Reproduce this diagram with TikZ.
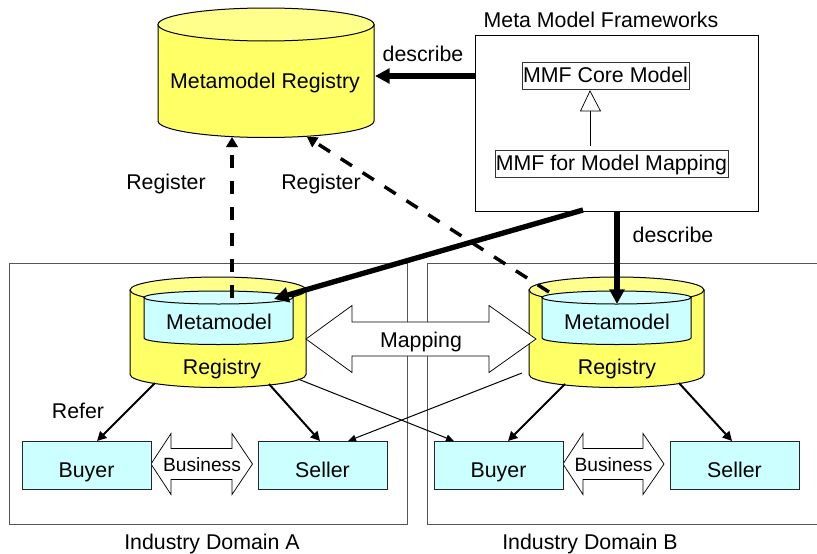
\documentclass[tikz,border=0pt]{standalone}
\usepackage{fontspec}
\setmainfont{Liberation Sans}
\usetikzlibrary{arrows.meta}
\definecolor{cylY}{HTML}{FFFF66}
\definecolor{cylYtop}{HTML}{FFFF8C}
\definecolor{cylC}{HTML}{CCFFFF}
\definecolor{cylCtop}{HTML}{D6FFFF}
\definecolor{edgegray}{HTML}{555555}
\newcommand{\cyl}[7]{% x1,x2,ytopcentre,ry,ysidebottom,fill,topfill
  \pgfmathsetmacro{\rx}{(#2-#1)/2}
  \pgfmathsetmacro{\xm}{(#1+#2)/2}
  \draw[fill=#6,line width=0.75pt] (#1,#3) -- (#1,#5)
     .. controls (#1,#5+0.55*#4) and (\xm-0.55*\rx,#5+#4) .. (\xm,#5+#4)
     .. controls (\xm+0.55*\rx,#5+#4) and (#2,#5+0.55*#4) .. (#2,#5) -- (#2,#3) -- cycle;
  \draw[fill=#7,line width=0.75pt]
     (#1,#3) .. controls (#1,#3-0.55*#4) and (\xm-0.55*\rx,#3-#4) .. (\xm,#3-#4)
     .. controls (\xm+0.55*\rx,#3-#4) and (#2,#3-0.55*#4) .. (#2,#3)
     .. controls (#2,#3+0.55*#4) and (\xm+0.55*\rx,#3+#4) .. (\xm,#3+#4)
     .. controls (\xm-0.55*\rx,#3+#4) and (#1,#3+0.55*#4) .. (#1,#3) -- cycle;
}
\newcommand{\dblarrow}[7]{% ltip,lbase,rbase,rtip,ymid,headhalf,shafthalf
  \draw[fill=white,line width=0.55pt,draw=black] (#1,#5) -- (#2,#5-#6) -- (#2,#5-#7) -- (#3,#5-#7) -- (#3,#5-#6)
    -- (#4,#5) -- (#3,#5+#6) -- (#3,#5+#7) -- (#2,#5+#7) -- (#2,#5+#6) -- cycle;
}
\tikzset{
  x=0.75pt,y=-0.75pt,
  lbl/.style={font=\fontsize{16}{19}\selectfont,inner sep=0pt,anchor=base},
  smalllbl/.style={font=\fontsize{14.4}{17}\selectfont,inner sep=0pt,anchor=base},
  actor/.style={draw=black!85,fill=cylC,line width=0.75pt,inner sep=0pt,font=\fontsize{16}{19}\selectfont,
     minimum width=96.75pt,minimum height=36pt,text height=18pt,text depth=0pt},
  mmfbox/.style={draw=black!80,line width=0.75pt,fill=white,inner sep=0pt,font=\fontsize{16}{19}\selectfont,
     minimum height=20.25pt,text height=11.2pt,text depth=0pt},
  frame/.style={draw=edgegray,line width=0.75pt},
  thickarrow/.style={line width=4pt,-{Triangle[length=11pt,width=11pt]}},
  dasharrow/.style={line width=2.6pt,dash pattern=on 10pt off 9.5pt,-{Triangle[length=7.5pt,width=8.5pt,fill=black]}},
  refer/.style={line width=1.5pt,-{Triangle[length=7pt,width=7pt]}},
  crossrefer/.style={line width=0.75pt,-{Triangle[length=6pt,width=5pt]}},
}
\begin{document}
\begin{tikzpicture}
\useasboundingbox (0,0) rectangle (817,553);
% domains
\draw[frame] (9,263) rectangle (407.5,524);
\draw[frame] (817,263) -- (427,263) -- (427,524) -- (817,524);
% top registry
\cyl{158}{374}{24.5}{16.5}{121}{cylY}{cylYtop}
% domain cylinders
\cyl{130}{306}{290}{13}{374.5}{cylY}{cylYtop}
\cyl{144}{293}{297.5}{6.5}{338}{cylC}{cylCtop}
\cyl{529}{704}{290}{13}{374.5}{cylY}{cylYtop}
\cyl{542}{691}{297.5}{6.5}{338}{cylC}{cylCtop}
% mapping and business arrows
\dblarrow{306}{352}{489}{536}{339}{33.5}{17}
\dblarrow{151}{171}{232}{252.5}{464}{30.5}{15.5}
\dblarrow{563}{583}{643}{664}{464}{30.5}{15.5}
% boxes
\node[actor] (buyerA) at (86.5,465) {Buyer};
\node[actor] (sellerA) at (322.5,465) {Seller};
\node[actor] (buyerB) at (498.5,465) {Buyer};
\node[actor] (sellerB) at (734.5,465) {Seller};
\node[draw=black,line width=0.75pt,minimum width=212.25pt,minimum height=132pt,inner sep=0pt] (mmf) at (616.5,123) {};
\node[mmfbox,minimum width=125.25pt] (core) at (605.5,75.5) {MMF Core Model};
\node[mmfbox,minimum width=174.75pt] (mapbox) at (611.5,163.5) {MMF for Model Mapping};
% labels
\node[lbl] (regTop) at (265,88) {Metamodel Registry};
\node[lbl] (metaA) at (219,329) {Metamodel};
\node[lbl] (regA) at (222,374) {Registry};
\node[lbl] (metaB) at (617,329) {Metamodel};
\node[lbl] (regB) at (617,374) {Registry};
\node[lbl] (mapL) at (421,347) {Mapping};
\node[smalllbl] (busLA) at (202,471) {Business};
\node[smalllbl] (busLB) at (613.5,471) {Business};
\node[lbl] (desc1) at (423,61) {describe};
\node[lbl] (desc2) at (673,242) {describe};
\node[lbl] (reg1) at (166,189) {Register};
\node[lbl] (reg2) at (321,189) {Register};
\node[lbl] (refer) at (78,418) {Refer};
\node[lbl] (mmfT) at (601,27) {Meta Model Frameworks};
\node[lbl] (domA) at (212,549) {Industry Domain A};
\node[lbl] (domB) at (590,549) {Industry Domain B};
% connector ends
\coordinate (topR) at (375,76);
\coordinate (topB1) at (232,137);
\coordinate (topB2) at (307,137);
\coordinate (dashA) at (232,298);
\coordinate (dashB) at (549,292);
\coordinate (mmfL) at (475,76);
\coordinate (mmfB1) at (583,210);
\coordinate (mmfB2) at (617,211);
\coordinate (innerA) at (274,299);
\coordinate (innerB) at (617,304);
\coordinate (cAl) at (155,383);
\coordinate (cAr) at (269,384);
\coordinate (cBl) at (565,384);
\coordinate (cBr) at (679,383);
\coordinate (cAx) at (298,379);
\coordinate (cBx) at (522,373);
\coordinate (buyerAt) at (97,441);
\coordinate (sellerAt) at (320,441);
\coordinate (buyerBt) at (508,441);
\coordinate (sellerBt) at (732,441);
\coordinate (sellerAx) at (348,441);
\coordinate (buyerBx) at (454,441);
\coordinate (triTip) at (590,91);
\coordinate (triBase) at (590,111);
\coordinate (mapTop) at (590,146);
% connectors
\draw[thickarrow] (mmfL) -- (topR);
\draw[thickarrow] (mmfB2) -- (innerB);
\draw[thickarrow] (mmfB1) -- (innerA);
\draw[dasharrow] (dashA) -- (topB1);
\draw[dasharrow] (dashB) -- (topB2);
\draw[refer] (cAl) -- (buyerAt);
\draw[refer] (cAr) -- (sellerAt);
\draw[refer] (cBl) -- (buyerBt);
\draw[refer] (cBr) -- (sellerBt);
\draw[crossrefer] (cAx) -- (buyerBx);
\draw[crossrefer] (cBx) -- (sellerAx);
\draw[line width=0.55pt] (mapTop) -- (triBase);
\draw[line width=0.55pt,fill=white] (triTip) -- (600.5,111) -- (580.5,111) -- cycle;
\end{tikzpicture}
\end{document}
